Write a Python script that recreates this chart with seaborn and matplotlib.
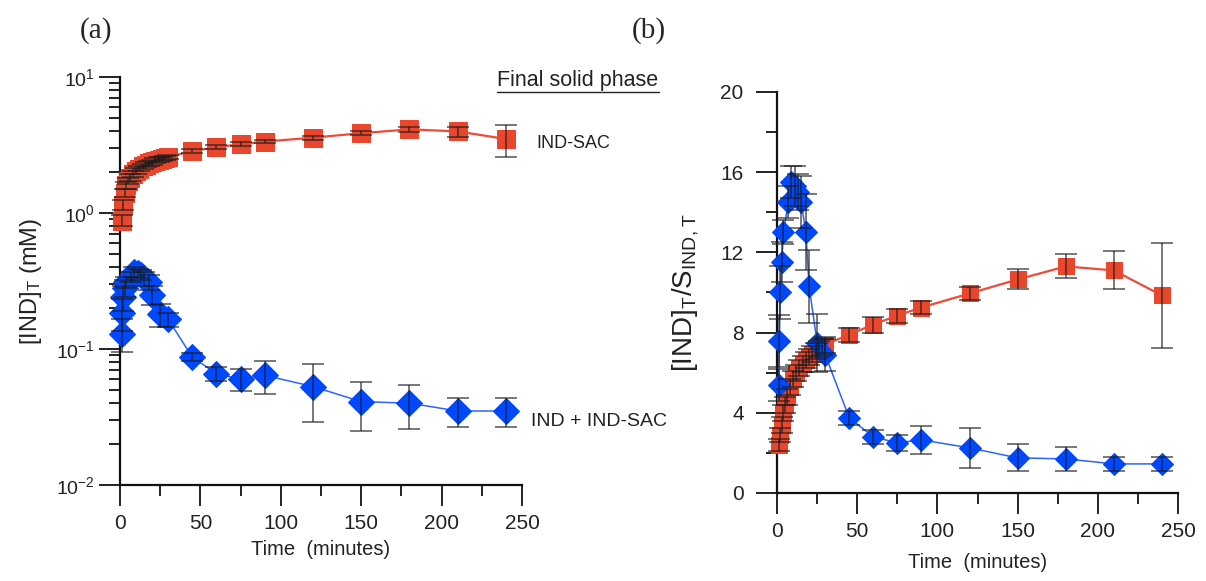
import numpy as np
import pandas as pd
import matplotlib
matplotlib.use("Agg")
import matplotlib.pyplot as plt
from matplotlib.lines import Line2D
from matplotlib.ticker import LogLocator, MultipleLocator, NullFormatter, LogFormatterMathtext
import seaborn as sns

# ---------------- data ----------------
t_red = [1, 2, 3, 4, 5, 6, 8, 10, 12, 14, 16, 18, 20, 22, 24, 26, 28, 30,
         45, 60, 75, 90, 120, 150, 180, 210, 240]
t_blue = [1, 1.5, 2, 3, 4, 7, 9, 11, 13, 15, 18, 20, 25, 30,
          45, 60, 75, 90, 120, 150, 180, 210, 240]

# (a) total concentration, mM
red_a = [0.88, 1.15, 1.40, 1.60, 1.72, 1.82, 1.95, 2.05, 2.12, 2.20, 2.27, 2.32, 2.37,
         2.42, 2.46, 2.50, 2.54, 2.58, 2.85, 3.05, 3.20, 3.35, 3.58, 3.86, 4.12, 3.98, 3.50]
red_a_err = [0.08, 0.10, 0.10, 0.10, 0.10, 0.10, 0.10, 0.10, 0.10, 0.10, 0.10, 0.10, 0.10,
             0.10, 0.10, 0.10, 0.10, 0.10, 0.10, 0.10, 0.10, 0.10, 0.12, 0.12, 0.15, 0.33, 0.90]
blue_a = [0.13, 0.185, 0.24, 0.28, 0.31, 0.34, 0.37, 0.36, 0.35, 0.33, 0.31, 0.25, 0.18, 0.165,
          0.087, 0.066, 0.060, 0.064, 0.053, 0.041, 0.040, 0.035, 0.035]
blue_a_err = [0.035, 0.05, 0.05, 0.04, 0.03, 0.03, 0.03, 0.03, 0.03, 0.04, 0.04, 0.04, 0.035, 0.02,
              0.006, 0.008, 0.011, 0.017, 0.024, 0.016, 0.014, 0.0085, 0.0085]

# (b) supersaturation ratio
red_b = [2.4, 2.9, 3.4, 4.0, 4.4, 4.8, 5.3, 5.7, 6.0, 6.25, 6.45, 6.65, 6.8,
         6.95, 7.1, 7.2, 7.3, 7.4, 7.9, 8.4, 8.85, 9.25, 9.95, 10.65, 11.3, 11.1, 9.85]
red_b_err = [0.3, 0.35, 0.4, 0.4, 0.4, 0.4, 0.4, 0.4, 0.4, 0.4, 0.4, 0.4, 0.4,
             0.4, 0.4, 0.4, 0.4, 0.4, 0.35, 0.4, 0.35, 0.33, 0.33, 0.5, 0.6, 0.95, 2.6]
blue_b = [5.4, 7.6, 10.0, 11.5, 13.0, 14.5, 15.5, 15.3, 15.0, 14.5, 13.0, 10.3, 7.5, 6.9,
          3.75, 2.8, 2.5, 2.65, 2.25, 1.75, 1.7, 1.45, 1.45]
blue_b_err = [0.8, 1.3, 1.3, 1.0, 0.6, 0.8, 0.8, 1.0, 0.9, 1.3, 1.9, 1.8, 1.45, 0.8,
              0.35, 0.35, 0.4, 0.7, 1.0, 0.67, 0.58, 0.35, 0.35]

x_ticks = [0, 50, 100, 150, 200, 250]
b_yticks = [0, 4, 8, 12, 16, 20]

RED = "#E8472E"
RED_LINE = "#F04A38"
BLUE = "#0048FF"
BLUE_LINE = "#2C64FF"
ERR = "#1a1a1a"
SANS = ["Liberation Sans", "DejaVu Sans"]

sns.set_style("ticks")
plt.rcParams["font.family"] = ["Liberation Sans Narrow", "Liberation Sans", "DejaVu Sans"]
plt.rcParams["mathtext.default"] = "regular"

fig = plt.figure(figsize=(12.06, 5.81), dpi=100)
axA = fig.add_axes([0.0995, 0.1652, 0.3333, 0.7023])
axB = fig.add_axes([0.6443, 0.1515, 0.3325, 0.6902])

df_red_a = pd.DataFrame({"t": t_red, "v": red_a})
df_blue_a = pd.DataFrame({"t": t_blue, "v": blue_a})
df_red_b = pd.DataFrame({"t": t_red, "v": red_b})
df_blue_b = pd.DataFrame({"t": t_blue, "v": blue_b})


def draw(ax, dred, dblue, rerr, berr, ms_s, ms_d):
    sns.lineplot(data=dred, x="t", y="v", ax=ax, color=RED_LINE, lw=1.6, marker="s",
                 markersize=ms_s, markerfacecolor=RED, markeredgecolor=RED, estimator=None,
                 sort=False, clip_on=False, zorder=3)
    sns.lineplot(data=dblue, x="t", y="v", ax=ax, color=BLUE_LINE, lw=1.1, marker="D",
                 markersize=ms_d, markerfacecolor=BLUE, markeredgecolor=BLUE, estimator=None,
                 sort=False, clip_on=False, zorder=4)
    ax.errorbar(dred["t"], dred["v"], yerr=rerr, fmt="none", ecolor=ERR, elinewidth=1.1,
                capsize=8, capthick=1.1, alpha=0.75, zorder=5, clip_on=False)
    ax.errorbar(dblue["t"], dblue["v"], yerr=berr, fmt="none", ecolor=ERR, elinewidth=1.1,
                capsize=8, capthick=1.1, alpha=0.75, zorder=5, clip_on=False)


draw(axA, df_red_a, df_blue_a, red_a_err, blue_a_err, 13.5, 13)
draw(axB, df_red_b, df_blue_b, red_b_err, blue_b_err, 11, 11.5)

for ax in (axA, axB):
    sns.despine(ax=ax)
    ax.spines["left"].set_linewidth(1.6)
    ax.spines["bottom"].set_linewidth(1.6)
    ax.spines["left"].set_color("#111111")
    ax.spines["bottom"].set_color("#111111")
    ax.set_xlim(0, 250)
    ax.set_xticks(x_ticks)
    ax.xaxis.set_minor_locator(MultipleLocator(25))
    ax.tick_params(which="major", length=15, width=1.3, color="#111111", labelsize=15,
                   labelcolor="#222222")
    ax.tick_params(which="minor", length=8, width=1.3, color="#111111")
    ax.tick_params(axis="x", which="major", pad=6)
    ax.set_xlabel("Time  (minutes)", fontsize=14.5, color="#222222")

# panel (a)
axA.set_yscale("log")
axA.set_ylim(0.01, 10)
axA.yaxis.set_major_locator(LogLocator(base=10, numticks=10))
axA.yaxis.set_minor_locator(LogLocator(base=10, subs=np.arange(2, 10), numticks=20))
axA.yaxis.set_minor_formatter(NullFormatter())
axA.yaxis.set_major_formatter(LogFormatterMathtext())
axA.tick_params(axis="y", which="major", pad=3, labelsize=14)
axA.set_ylabel(r"[IND]$_{T}$ (mM)", fontsize=17, color="#222222", family=SANS)
axA.yaxis.set_label_coords(-0.19, 0.5)
axA.xaxis.set_label_coords(0.5, -0.135)

axA.text(1.035, 0.836, "IND-SAC", transform=axA.transAxes, fontsize=13, va="center",
         ha="left", color="#222222", family=SANS)
axA.text(1.022, 0.156, "IND + IND-SAC", transform=axA.transAxes, fontsize=14, va="center",
         ha="left", color="#222222", family=SANS)
fsp = fig.text(0.4793, 0.862, "Final solid phase", fontsize=15.5, ha="center", va="center",
               color="#222222", family=SANS)

# panel (b)
axB.set_ylim(0, 20)
axB.set_yticks(b_yticks)
axB.yaxis.set_minor_locator(MultipleLocator(2))
axB.tick_params(axis="y", which="major", pad=9)
axB.set_ylabel(r"[IND]$_{T}$/S$_{IND,T}$", fontsize=20, color="#222222", family=SANS)
axB.yaxis.set_label_coords(-0.19, 0.5)
axB.xaxis.set_label_coords(0.5, -0.15)

fig.text(0.066, 0.948, "(a)", fontsize=21, ha="left", va="center",
         family=["Liberation Serif", "DejaVu Serif"])
fig.text(0.524, 0.948, "(b)", fontsize=21, ha="left", va="center",
         family=["Liberation Serif", "DejaVu Serif"])

# underline for "Final solid phase"
fig.canvas.draw()
bb = fsp.get_window_extent()
inv = fig.transFigure.inverted()
(x0, y0) = inv.transform((bb.x0, bb.y0 - 1))
(x1, _) = inv.transform((bb.x1, bb.y0 - 1))
fig.add_artist(Line2D([x0, x1], [y0, y0], transform=fig.transFigure, color="#222222", lw=1.0))

fig.savefig("out.png", dpi=100)
